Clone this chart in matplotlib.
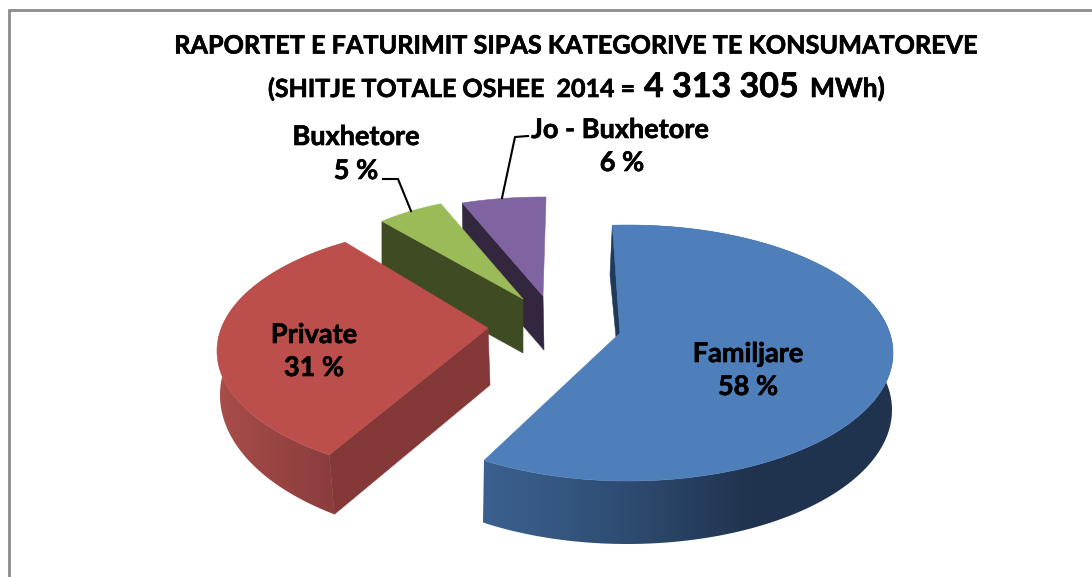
import numpy as np
import matplotlib
matplotlib.use("Agg")
import matplotlib.pyplot as plt
import matplotlib.patheffects as pe
from matplotlib.colors import LinearSegmentedColormap
from matplotlib.patches import Polygon

categories = ["Familjare", "Private", "Buxhetore", "Jo - Buxhetore"]
shares = [58, 31, 5, 6]
title_line1 = "RAPORTET E FATURIMIT SIPAS KATEGORIVE TE KONSUMATOREVE"
title_prefix = "(SHITJE TOTALE OSHEE  2014 ="
total_text = "4 313 305"
unit_text = "MWh)"

plt.rcParams['font.family'] = ['Lato', 'DejaVu Sans']

# per-slice 3D projection in pixels (exploded, perspective); angles run clockwise from start
layout = {
    "Familjare": dict(apex=(620, 333), c=(628, 353), r=(265, 128), start=93.4, k=1.036,
                      c2=(627, 410), r2=(265, 134), base=(616, 395), face="#4f7fba",
                      rim=[(483, "#3b6190"), (620, "#2f4d73"), (750, "#20344f"), (893, "#1f334e")]),
    "Private": dict(apex=(488, 328), c=(482, 351), r=(265, 127), start=234.8, k=1.019,
                    c2=(490, 395), r2=(270, 146), base=(490, 385), face="#bc4f4c",
                    rim=[(218, "#a84d4a"), (335, "#8a3d3c")]),
    "Buxhetore": dict(apex=(523, 299), c=(523, 299), r=(215, 103), start=131.0, k=1.03,
                      c2=(523, 353), r2=(215, 103), base=(523, 353), face="#9bbb59", rim=None),
    "Jo - Buxhetore": dict(apex=(543, 296), c=(543, 296), r=(236, 99), start=110.0, k=0.96,
                           c2=(544, 350), r2=(236, 99), base=(544, 350), face="#8064a2", rim=None),
}
side_dark = {"Familjare": "#1f3a5a", "Private": "#843837",
             "Buxhetore": "#3f4b22", "Jo - Buxhetore": "#33273f"}
draw_order = ["Jo - Buxhetore", "Buxhetore", "Private", "Familjare"]


def arc(c, r, start, sweep, n=200):
    a = np.radians(np.linspace(start, start - sweep, n))
    return np.column_stack([c[0] + r[0] * np.cos(a), c[1] - r[1] * np.sin(a)])


fig = plt.figure(figsize=(10.92, 5.77), dpi=100, facecolor="white")
ax = fig.add_axes([0, 0, 1, 1])
ax.axis("off")

# chart frame
ax.plot([9, 9, 1092], [577, 10, 10], color="#8c8c8c", lw=2, solid_joinstyle="miter", zorder=1)

for z, name in enumerate(draw_order, start=3):
    g = layout[name]
    share = shares[categories.index(name)]
    sweep = share * 3.6 * g["k"]
    top = arc(g["c"], g["r"], g["start"], sweep)
    bot = arc(g["c2"], g["r2"], g["start"], sweep)
    dark = side_dark[name]

    # outer rim with horizontal shading, clipped to the rim outline
    if g["rim"]:
        x0, x1 = g["rim"][0][0], g["rim"][-1][0]
        stops = [((x - x0) / (x1 - x0), col) for x, col in g["rim"]]
        cmap = LinearSegmentedColormap.from_list(name, stops)
        rim_outline = Polygon(np.vstack([top, bot[::-1]]), closed=True, transform=ax.transData,
                              facecolor="none", edgecolor="none")
        ax.add_patch(rim_outline)
        im = ax.imshow(np.linspace(0, 1, 256)[None, :], cmap=cmap, aspect="auto",
                       extent=(x0, x1, 577, 0), zorder=z)
        im.set_clip_path(rim_outline)

    # cut faces
    if name == "Familjare":
        ax.add_patch(Polygon([top[0], (610, 275), (616, 337), g["apex"]], closed=True,
                             facecolor=dark, edgecolor=dark, lw=0.4, zorder=z))
    else:
        ax.add_patch(Polygon([g["apex"], top[0], bot[0], g["base"]], closed=True,
                             facecolor=dark, edgecolor=dark, lw=0.4, zorder=z + 0.2))

    # top face
    ax.add_patch(Polygon(np.vstack([[g["apex"]], top]), closed=True,
                         facecolor=g["face"], edgecolor=g["face"], lw=0.4, zorder=z + 0.5))

ax.set_xlim(0, 1092)
ax.set_ylim(577, 0)

# leaders
ax.plot([383, 398, 411], [179, 179, 211], color="black", lw=1.5, zorder=8)
ax.plot([528, 515, 502], [136, 137, 198], color="black", lw=1.5, zorder=8)

stroke = [pe.withStroke(linewidth=0.45, foreground="black")]
fs = 19.5
tk = dict(ha="center", va="center", fontweight="bold", color="black", zorder=10, path_effects=stroke)
label_pos = {"Familjare": (748, 354, 748, 387), "Private": (314, 335, 314, 368),
             "Buxhetore": (356, 137, 356, 171), "Jo - Buxhetore": (620, 130, 622, 163)}
for name, share in zip(categories, shares):
    x1, y1, x2, y2 = label_pos[name]
    ax.text(x1, y1, name, fontsize=fs, **tk)
    ax.text(x2, y2, f"{share} %", fontsize=fs, **tk)

ax.text(576, 46, title_line1, fontsize=18.15, **tk)
bl = dict(ha="left", va="baseline", fontweight="bold", color="black", zorder=10, path_effects=stroke)
ax.text(268, 97, title_prefix, fontsize=18, **bl)
ax.text(644, 97, total_text, fontsize=24.5, **bl)
ax.text(810, 97, unit_text, fontsize=19, **bl)

fig.savefig("out.png", dpi=100)
